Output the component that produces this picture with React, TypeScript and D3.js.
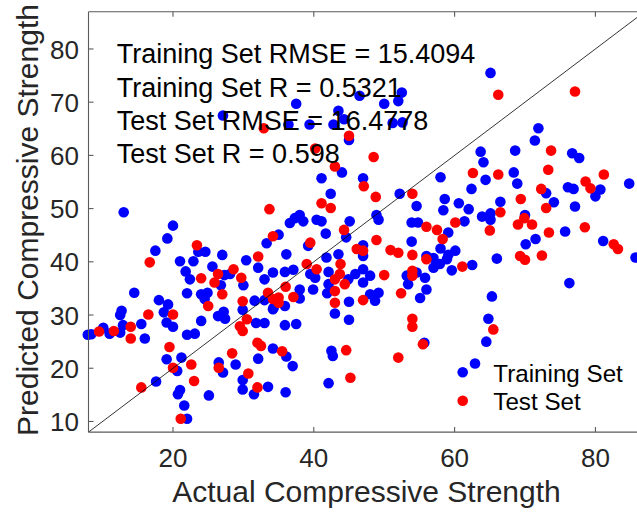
import React from 'react';
import * as d3 from 'd3';

// Training set (blue): actual vs predicted
const trainActual = [
  19.2, 17.5, 21.0, 22.9, 23.6, 24.6, 27.0, 30.4, 33.3, 21.8, 22.4, 25.6, 26.8, 27.3, 28.1, 30.0, 32.1, 33.0, 34.2, 14.5,
  22.0, 24.0, 24.9, 24.5, 18.0, 19.3, 18.7, 12.7, 12.5, 15.5, 16.0, 12.9, 12.5, 10.1, 8.4, 11.0, 7.9, 19.1, 20.0, 22.0,
  23.1, 24.0, 26.4, 27.2, 27.4, 29.9, 31.6, 33.0, 34.2, 31.8, 33.0, 19.1, 21.2, 20.6, 26.5, 27.1, 28.9, 29.9, 29.9, 31.5,
  33.5, 32.1, 34.2, 17.6, 21.0, 20.7, 21.6, 25.1, 22.0,
  39.2, 44.6, 47.0, 47.0, 53.9, 56.0, 57.0, 57.9, 58.0, 58.9, 59.6, 60.1, 36.1, 35.9, 37.1, 39.5, 40.2, 41.8, 42.1, 42.1,
  41.9, 43.5, 44.9, 45.0, 43.0, 45.0, 45.9, 47.0, 48.0, 47.0, 48.0, 48.7, 49.2, 53.2, 53.4, 54.6, 55.8, 56.0, 55.1, 39.9,
  38.0, 38.0, 35.9, 34.3, 35.9, 37.5, 55.7, 42.5, 42.7, 42.1, 36.1, 37.0, 36.0, 57.0, 59.1,
  62.5, 66.0, 70.1, 71.5, 81.1, 85.7, 76.3, 65.3, 64.8, 64.5, 62.9,
  27.1, 13.0, 20.0,
  37.5, 46.5, 52.5, 52.0, 50.0, 43.5, 44.3, 39.4, 42.8, 51.2, 52.6, 36.4, 41.1, 45.0, 44.0, 47.0, 42.4, 52.2, 58.0, 54.6,
  37.3, 38.0, 38.5, 40.4, 41.1, 36.6, 35.0, 45.1, 48.9, 49.2, 41.7, 53.9, 54.8, 58.4, 59.1, 58.6,
  65.1, 71.9, 71.4, 63.7, 64.1, 64.4, 62.4, 68.6, 76.7, 77.7, 68.4, 68.9, 73.0, 74.1, 76.1, 76.9, 80.0, 80.7, 84.8, 77.1,
  60.6, 62.0, 61.4, 66.5, 63.9, 65.1, 65.1, 70.0, 75.7,
];
const trainPredicted = [
  44.4, 42.1, 40.1, 40.1, 41.9, 41.9, 41.3, 40.3, 43.5, 38.2, 36.7, 39.1, 35.6, 37.5, 37.7, 35.6, 38.9, 36.7, 38.0, 34.2,
  34.1, 33.9, 34.2, 33.0, 32.8, 32.0, 30.5, 30.8, 30.0, 28.3, 25.6, 28.1, 26.7, 27.6, 26.4, 26.5, 26.3, 28.6, 27.8, 26.3,
  26.5, 28.9, 29.8, 30.6, 29.3, 31.0, 32.7, 32.8, 31.1, 28.5, 28.5, 21.7, 22.0, 19.5, 21.1, 19.2, 20.7, 17.8, 16.0, 15.1,
  16.5, 21.8, 23.7, 17.5, 15.9, 15.1, 13.0, 14.9, 10.5,
  43.0, 44.6, 43.1, 41.1, 43.8, 41.1, 38.9, 39.6, 42.5, 40.5, 38.4, 42.1, 41.4, 38.1, 38.5, 37.7, 37.0, 40.8, 38.1, 35.8,
  34.1, 41.4, 36.7, 32.5, 30.3, 29.1, 37.7, 38.6, 37.4, 36.1, 33.9, 32.7, 34.2, 37.4, 35.8, 38.0, 37.0, 34.8, 33.2, 34.8,
  34.8, 33.1, 31.7, 31.4, 28.1, 28.3, 24.8, 23.3, 22.3, 17.2, 22.2, 20.4, 15.5, 40.7, 41.3,
  39.4, 40.6, 43.3, 44.3, 43.9, 40.8, 36.0, 33.5, 29.3, 25.0, 20.9,
  67.5, 49.3, 46.8,
  69.7, 71.2, 71.8, 70.2, 69.7, 68.4, 66.8, 65.8, 65.8, 66.1, 66.2, 65.8, 55.7, 62.9, 56.8, 55.7, 52.8, 52.8, 55.9, 50.5,
  48.2, 48.8, 47.6, 47.9, 47.6, 47.3, 45.1, 47.6, 48.8, 47.9, 45.3, 47.4, 47.4, 49.7, 45.5, 51.8,
  75.5, 65.1, 62.8, 60.7, 58.7, 55.4, 53.7, 60.9, 60.4, 59.5, 56.8, 54.7, 52.9, 51.2, 54.0, 53.7, 52.3, 53.6, 54.7, 50.4,
  51.0, 49.9, 47.6, 51.3, 48.5, 49.1, 47.9, 48.8, 45.7,
];

// Test set (red): actual vs predicted
const testActual = [
  23.4, 32.1, 34.2, 24.0, 26.4, 25.9, 28.6, 29.7, 16.7, 25.0, 27.0, 20.0, 16.5, 14.0, 14.0, 11.6, 9.5, 29.9, 33.5, 34.2,
  30.5, 29.5, 29.9, 19.5, 20.0, 22.6, 23.0, 26.5, 28.4, 30.7, 32.0, 32.0, 32.5, 15.5, 21.1,
  39.5, 46.1, 47.0, 48.9, 50.9, 52.0, 54.0, 56.0, 58.3, 39.0, 40.4, 43.8, 43.7, 43.0, 44.4, 43.0, 43.0, 50.0, 47.0, 52.4,
  54.0, 54.0, 36.0, 35.0, 37.1, 35.0, 54.0, 54.0, 55.5, 52.0, 44.6, 45.2, 35.5,
  61.1, 69.3, 70.0, 72.4, 82.6, 83.2, 65.5,
  32.9, 33.7,
  40.2, 45.0, 48.5, 43.0, 47.1, 48.8, 54.0, 41.1, 42.4, 44.3, 56.0, 57.5, 60.1,
  66.2, 77.1, 73.7, 62.6, 66.2, 73.3, 72.3, 78.6, 79.3, 81.2, 69.4, 73.0, 66.5, 69.0, 69.9, 71.0, 65.0, 73.4, 78.5,
];
const testPredicted = [
  43.1, 41.0, 44.8, 36.9, 37.7, 36.1, 38.6, 37.0, 39.9, 31.7, 33.9, 30.1, 30.1, 27.8, 25.6, 27.0, 26.9, 32.6, 34.2, 33.0,
  29.2, 27.9, 27.0, 24.0, 20.1, 20.7, 17.6, 20.1, 22.8, 19.0, 16.4, 24.8, 24.2, 16.4, 10.5,
  43.6, 42.4, 42.1, 44.1, 42.2, 41.7, 41.3, 40.5, 44.3, 39.6, 38.6, 39.6, 37.7, 36.7, 35.8, 34.5, 32.3, 37.5, 32.8, 34.1,
  38.3, 37.4, 35.3, 33.3, 33.4, 32.3, 29.3, 27.8, 24.5, 22.0, 23.4, 18.2, 23.2,
  39.1, 41.1, 40.4, 41.2, 43.3, 42.4, 27.3,
  65.1, 49.9,
  61.3, 63.7, 59.7, 57.9, 54.2, 52.2, 52.8, 51.0, 50.1, 46.0, 46.6, 46.0, 47.4,
  71.4, 72.0, 60.9, 56.7, 56.4, 57.3, 53.7, 55.1, 53.8, 56.4, 51.8, 50.1, 49.3, 47.0, 48.2, 47.0, 45.9, 45.5, 46.5,
];

const axisDomain = [8, 87];
const xTickValues = [20, 40, 60, 80];
const yTickValues = [10, 20, 30, 40, 50, 60, 70, 80];
const statLines = [
  'Training Set RMSE = 15.4094',
  'Training Set R = 0.5321',
  'Test Set RMSE = 16.4778',
  'Test Set R = 0.598',
];
const legendLabels = ['Training Set', 'Test Set'];
const legendColors = ['#0000ff', '#ff0000'];
const xLabel = 'Actual Compressive Strength';
const yLabel = 'Predicted Compressive Strength';

const FONT = '"Liberation Sans", Arial, Helvetica, sans-serif';

export default function App() {
  const left = 88.5, top = 11.7, right = 644.7, bottom = 432.1;
  const x = d3.scaleLinear().domain(axisDomain).range([left, right]);
  const y = d3.scaleLinear().domain(axisDomain).range([bottom, top]);
  const r = 5.3;
  const tickLen = 5;
  const axisColor = '#5a5a5a';
  const textColor = '#262626';

  const train = trainActual.map((a, i) => [a, trainPredicted[i]]);
  const test = testActual.map((a, i) => [a, testPredicted[i]]);
  const diag = d3.line<number>().x((d) => x(d)).y((d) => y(d))(axisDomain) || '';

  return (
    <svg
      width={637}
      height={514}
      style={{ position: 'fixed', left: 0, top: 0, background: '#fff' }}
      fontFamily={FONT}
    >
      <rect x={0} y={0} width={637} height={514} fill="#fff" />
      {/* points */}
      <g>
        {train.map((d, i) => (
          <circle key={'tr' + i} cx={x(d[0])} cy={y(d[1])} r={r} fill="#0000ff" />
        ))}
        {test.map((d, i) => (
          <circle key={'te' + i} cx={x(d[0])} cy={y(d[1])} r={r} fill="#ff0000" />
        ))}
      </g>
      {/* y = x line */}
      <path d={diag} stroke="#000" strokeWidth={0.8} fill="none" />
      {/* axes box */}
      <g stroke={axisColor} strokeWidth={1.1} fill="none">
        <line x1={left} y1={bottom} x2={right} y2={bottom} />
        <line x1={left} y1={top} x2={right} y2={top} />
        <line x1={left} y1={top} x2={left} y2={bottom} />
        <line x1={right} y1={top} x2={right} y2={bottom} />
        {xTickValues.map((t) => (
          <g key={'xt' + t}>
            <line x1={x(t)} x2={x(t)} y1={bottom} y2={bottom - tickLen} />
            <line x1={x(t)} x2={x(t)} y1={top} y2={top + tickLen} />
          </g>
        ))}
        {yTickValues.map((t) => (
          <g key={'yt' + t}>
            <line x1={left} x2={left + tickLen} y1={y(t)} y2={y(t)} />
            <line x1={right} x2={right - tickLen} y1={y(t)} y2={y(t)} />
          </g>
        ))}
      </g>
      {/* tick labels */}
      <g fill={textColor} fontSize={26}>
        {xTickValues.map((t) => (
          <text key={'xl' + t} x={x(t)} y={466.5} textAnchor="middle">
            {t}
          </text>
        ))}
        {yTickValues.map((t) => (
          <text key={'yl' + t} x={79} y={y(t) + 9.6} textAnchor="end">
            {t}
          </text>
        ))}
      </g>
      {/* axis labels */}
      <text x={366.5} y={502.3} textAnchor="middle" fontSize={30} fill={textColor}>
        {xLabel}
      </text>
      <text
        transform="translate(38.3,220) rotate(-90)"
        textAnchor="middle"
        fontSize={30}
        fill={textColor}
      >
        {yLabel}
      </text>
      {/* statistics text */}
      <g fontSize={27} fill="#000">
        {statLines.map((s, i) => (
          <text key={'st' + i} x={116.8} y={63.3 + i * 33.35}>
            {s}
          </text>
        ))}
      </g>
      {/* legend */}
      <g fontSize={24.2} fill="#000">
        {legendLabels.map((l, i) => (
          <g key={'lg' + i}>
            <circle cx={462.7} cy={372.3 + i * 28.4} r={r} fill={legendColors[i]} />
            <text x={493.3} y={382.3 + i * 28.0}>
              {l}
            </text>
          </g>
        ))}
      </g>
    </svg>
  );
}
